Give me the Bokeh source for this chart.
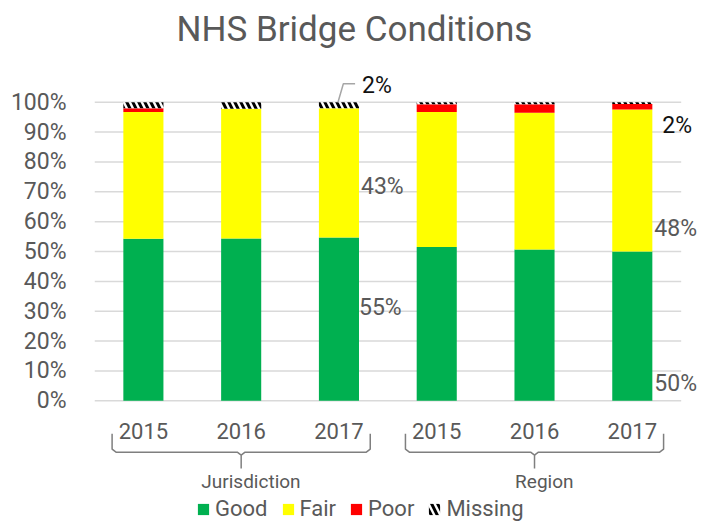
from bokeh.plotting import figure
from bokeh.models import (ColumnDataSource, Range1d, FixedTicker,
                          PrintfTickFormatter, Legend, LegendItem)
from bokeh.transform import stack
from bokeh.core.properties import value
from bokeh.embed import file_html
from bokeh.resources import INLINE

# ---------------- data ----------------
chart_title = "NHS Bridge Conditions"
groups = ["Jurisdiction", "Region"]
years = ["2015", "2016", "2017"]
good = [54.3, 54.4, 54.7, 51.5, 50.7, 50.0]
fair = [42.4, 43.4, 43.3, 45.2, 45.8, 47.6]
poor = [1.3, 0.0, 0.0, 2.6, 2.8, 1.8]
missing = [2.0, 2.2, 2.0, 0.7, 0.7, 0.6]
series_names = ["Good", "Fair", "Poor", "Missing"]
y_ticks = list(range(0, 101, 10))

factors = [(g, y) for g in groups for y in years]
n = len(factors)
xpos = [i + 0.5 for i in range(n)]          # category centres on the x scale

# data labels shown on the last bar of each group
label_factor = [("Jurisdiction", "2017")] * 3 + [("Region", "2017")] * 3
label_series = ["good", "fair", "missing", "good", "fair", "poor"]

# ---------------- styles / positions ----------------
FONT = "Roboto"
TXT = "#595959"
COLORS = ["#00B050", "#FFFF00", "#FF0000"]
BAR_W = 0.41
label_y = [31.3, 71.8, 105.6, 5.9, 57.7, 92.2]
label_dx = [20, 22, 23, 22, 22, 30]
label_col = [TXT, TXT, "#111111", TXT, TXT, "#111111"]

p = figure(x_range=Range1d(0, n + 0.31), y_range=Range1d(-43.1, 116.0),
           width=711, height=529, output_backend="svg", toolbar_location=None,
           min_border_left=94, min_border_right=0, min_border_top=54, min_border_bottom=0,
           title=chart_title)

p.title.align = "left"
p.title.offset = 82
p.title.text_font = FONT
p.title.text_font_size = "35px"
p.title.text_font_style = "normal"
p.title.text_color = TXT

p.outline_line_color = None
p.xaxis.visible = False
p.xgrid.visible = False
p.ygrid.visible = False

ticker = FixedTicker(ticks=y_ticks)
p.yaxis.ticker = ticker
p.yaxis.formatter = PrintfTickFormatter(format="%d%%")
p.yaxis.axis_line_color = None
p.yaxis.major_tick_line_color = None
p.yaxis.minor_tick_line_color = None
p.yaxis.major_label_standoff = 22
p.yaxis.major_label_text_font = FONT
p.yaxis.major_label_text_font_size = "23px"
p.yaxis.major_label_text_color = TXT

# horizontal gridlines spanning the category area only
p.segment(x0=[0] * len(y_ticks), x1=[n] * len(y_ticks), y0=y_ticks, y1=y_ticks,
          line_color="#d9d9d9", line_width=1.5, level="underlay")

src = ColumnDataSource(dict(x=xpos, good=good, fair=fair, poor=poor, missing=missing))
rs = p.vbar_stack(["good", "fair", "poor"], x="x", width=BAR_W, source=src,
                  fill_color=COLORS, line_color=None)
rm = p.vbar(x="x", width=BAR_W, bottom=stack("good", "fair", "poor"),
            top=stack("good", "fair", "poor", "missing"), source=src,
            fill_color="white", line_color=None, hatch_pattern="\\",
            hatch_color="black", hatch_scale=12, hatch_weight=3)

# year labels
p.text(x=xpos, y=[-10] * n, text=[f[1] for f in factors],
       text_font=value(FONT), text_font_size="22px", text_color=TXT,
       text_align="center", text_baseline="middle")

# group brackets and labels
bx, by = [], []
gx = []
for gi, g in enumerate(groups):
    x0 = gi * len(years) + 0.18
    x1 = gi * len(years) + len(years) - 0.18
    xm = gi * len(years) + len(years) / 2
    gx.append(xm + 0.1)
    bx.append([x0, x0, x0 + 0.04, xm - 0.04, xm, xm])
    by.append([-11, -16.2, -17.2, -17.2, -18.2, -22.7])
    bx.append([x1, x1, x1 - 0.04, xm + 0.04, xm])
    by.append([-11, -16.2, -17.2, -17.2, -18.2])
p.multi_line(xs=bx, ys=by, line_color="#7f7f7f", line_width=1.5)
p.text(x=gx, y=[-27] * len(groups), text=groups, text_font=value(FONT),
       text_font_size="19px", text_color=TXT, text_align="center",
       text_baseline="middle")

# data labels
series = dict(good=good, fair=fair, poor=poor, missing=missing)
lx, ltext = [], []
for f, s in zip(label_factor, label_series):
    i = factors.index(f)
    lx.append(xpos[i])
    ltext.append(f"{round(series[s][i]):.0f}%")
p.text(x=lx, y=label_y, text=ltext, x_offset=label_dx,
       text_font=value(FONT), text_font_size="23px", text_color=label_col,
       text_align="left", text_baseline="middle")

# leader line for the small "missing" label
ci = xpos[factors.index(("Jurisdiction", "2017"))]
p.line(x=[ci - 0.01, ci + 0.045, ci + 0.165], y=[100.0, 106.2, 106.2],
       line_color="#a6a6a6", line_width=1.5)

legend = Legend(items=[LegendItem(label=series_names[0], renderers=[rs[0]]),
                       LegendItem(label=series_names[1], renderers=[rs[1]]),
                       LegendItem(label=series_names[2], renderers=[rs[2]]),
                       LegendItem(label=series_names[3], renderers=[rm])],
                orientation="horizontal", location=(102, 8),
                label_text_font=FONT, label_text_font_size="22px", label_text_color=TXT,
                glyph_width=14, glyph_height=14, label_standoff=5, spacing=13,
                padding=0, margin=0, border_line_color=None, background_fill_alpha=0)
p.add_layout(legend)

open("out.html", "w").write(file_html(p, INLINE))
